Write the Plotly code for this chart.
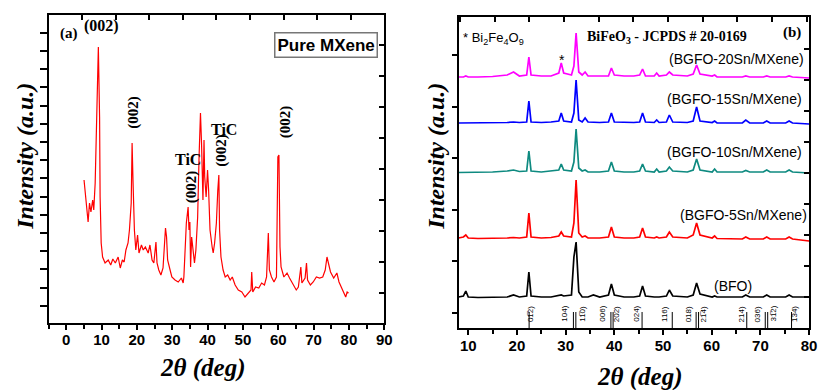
import plotly.graph_objects as go

W, H = 825, 390

# ---------------- Panel (a): Pure MXene ----------------
two_theta_a = [5.05, 5.6, 6.0, 6.2, 6.6, 7.0, 7.5, 7.8, 8.2, 8.5, 9.1, 9.45, 9.6, 9.9, 10.3, 11.0,
               11.9, 12.6, 13.2, 13.9, 14.7, 15.3, 15.9, 16.4, 16.9, 17.5, 17.9, 18.4, 18.65, 18.9,
               19.3, 19.7, 20.2, 20.6, 21.3, 21.8, 22.4, 23.2, 23.7, 24.3, 24.8, 25.4, 25.7, 26.2,
               26.8, 27.4, 27.75, 28.1, 28.4, 28.7, 29.4, 29.9, 30.8, 31.7, 32.6, 33.1, 33.3, 34.0,
               34.5, 34.75, 35.0, 35.2, 35.5, 35.9, 36.3, 36.7, 37.2, 37.6, 38.0, 38.3, 38.7, 39.0,
               39.2, 39.6, 40.0, 40.3, 40.7, 41.3, 41.6, 42.0, 42.5, 42.9, 43.2, 43.4, 43.8, 44.4,
               45.0, 45.7, 46.4, 47.0, 47.8, 48.7, 49.7, 50.6, 51.5, 52.3, 52.5, 52.8, 53.6, 54.5,
               55.3, 56.1, 56.7, 57.2, 57.5, 58.1, 58.8, 59.5, 59.9, 60.2, 60.5, 60.8, 61.6, 62.5,
               63.2, 64.2, 65.1, 65.7, 66.4, 66.7, 67.6, 68.0, 68.3, 69.1, 69.9, 70.8, 71.7, 72.6,
               73.3, 73.8, 74.2, 74.8, 75.7, 76.6, 77.2, 77.9, 78.6, 79.1, 79.5, 79.9]
intensity_a = [143, 126, 111, 101, 120, 111, 123, 113, 140, 193, 276, 206, 126, 80, 66, 60,
               63, 58, 64, 60, 66, 55, 63, 61, 73, 80, 93, 120, 180, 143,
               93, 73, 88, 70, 78, 73, 76, 70, 78, 63, 60, 81, 60, 53,
               48, 55, 73, 95, 86, 63, 53, 46, 43, 41, 45, 40, 46, 100,
               116, 93, 101, 56, 86, 73, 60, 73, 106, 166, 210, 180, 123, 183,
               146, 126, 153, 133, 93, 76, 70, 80, 100, 133, 148, 93, 66, 53,
               46, 48, 43, 46, 38, 33, 31, 26, 30, 33, 51, 31, 36, 35,
               40, 38, 46, 90, 53, 46, 41, 46, 166, 168, 76, 56, 46, 50,
               45, 38, 33, 36, 56, 40, 45, 60, 43, 38, 41, 46, 45, 46,
               53, 66, 60, 51, 45, 50, 41, 36, 31, 26, 31, 30]
x_ticks_a = [0, 10, 20, 30, 40, 50, 60, 70, 80, 90]

# ---------------- Panel (b): BFO / BGFO-Sn/MXene ----------------
two_theta_b = [8, 9.0, 9.5, 10.0, 12, 15, 18, 19.3, 20.5, 22.0, 22.45, 22.9, 25, 27, 28.6, 29.1,
               29.6, 31.2, 31.7, 32.15, 32.7, 33.4, 34.0, 34.6, 35.7, 37, 38.8, 39.4, 40.0, 42,
               44.0, 45.2, 45.8, 46.4, 48.2, 48.7, 49.2, 50.7, 51.3, 52.0, 55, 56.2, 56.9, 57.6,
               60.1, 60.6, 61.1, 64, 66.3, 67.0, 67.8, 70.6, 71.3, 72.0, 75.2, 75.9, 76.6, 80]
bfo = [31, 32, 37, 31, 30.5, 30.5, 31, 33, 31, 32, 56, 32, 31, 31, 32, 33,
       32, 33, 71, 86, 36, 31, 31, 31, 33, 31, 33, 44, 33, 31,
       31, 32, 42, 32, 31, 31, 31, 32, 38, 32, 31, 33, 45, 34,
       31, 32, 31, 31, 31, 33, 31, 31, 33, 31, 31, 33, 31, 31]
bgfo_5sn = [90, 91, 93, 90, 89.5, 89.5, 90, 90.5, 90, 91, 115, 91, 90, 90.5, 92, 96,
            92, 91, 105, 148, 95, 91, 92, 90, 90, 90, 91, 101, 91, 90,
            90, 91, 100, 91, 90, 91, 90, 91, 96, 91, 90, 93, 105, 93,
            90, 92, 89.5, 89, 89, 91, 89, 89, 91, 89, 89, 91, 89, 87]
bgfo_10sn = [155.5, 155.5, 156, 155.5, 155.5, 156, 157, 158, 156.5, 157, 177, 157, 156, 157, 158, 164,
             158, 157, 166, 199, 160, 157, 158, 156, 156, 156, 157, 166, 157, 156,
             156, 157, 164, 157, 156, 159, 156, 157, 161, 157, 156, 158, 169, 158,
             156, 159, 156, 156, 156, 157.5, 156, 156, 158, 156, 156, 158, 156, 155]
bgfo_15sn = [205, 205, 205.5, 205, 205, 205, 205.5, 206, 205.5, 206, 227, 206, 205.5, 206, 207, 215,
             207, 206, 215, 248, 208, 206, 210, 206, 205.5, 205.5, 206, 215, 206, 205.5,
             205.5, 206, 215, 206, 205.5, 208, 205.5, 206, 213, 206, 205.5, 207, 221, 207,
             205.5, 207, 205, 205, 205, 208, 205, 205, 207, 205, 205, 207, 205, 204]
bgfo_20sn = [251, 251, 252, 251, 251, 251.5, 253, 256, 252, 253, 271, 253, 252, 252, 255, 265,
             255, 253, 262, 295, 256, 253, 256, 252, 252, 252, 252, 260, 253, 252,
             252, 253, 259, 252, 252, 255, 252, 253, 256, 253, 252, 254, 263, 254,
             252, 253, 251, 251, 251, 252, 251, 251, 252, 251, 251, 252, 251, 250]
series_b = [("(BFO)", bfo, "#000000"),
            ("(BGFO-5Sn/MXene)", bgfo_5sn, "#ff0000"),
            ("(BGFO-10Sn/MXene)", bgfo_10sn, "#0e8a80"),
            ("(BGFO-15Sn/MXene)", bgfo_15sn, "#0000ff"),
            ("(BGFO-20Sn/MXene)", bgfo_20sn, "#ff00ff")]
x_ticks_b = [10, 20, 30, 40, 50, 60, 70, 80]

# JCPDS reference reflections
jcpds_lines = [22.5, 31.6, 32.1, 39.3, 39.75, 45.7, 51.9, 56.8, 57.3, 67.2, 71.0, 71.5, 76.4]
jcpds_line_height = 16
jcpds_label_pos = [22.7, 29.6, 33.3, 37.4, 40.4, 44.4, 50.2, 55.2, 58.3, 66.1, 69.4, 72.5, 76.9]
jcpds_label_txt = ["01\u03052)", "104)", "11\u03050)", "006)", "202)", "024)", "116)", "018)",
                   "21\u03054)", "214)", "036)", "31\u03052)", "1\u030534)"]

def px(x):
    return x / W

def py(y):
    return 1 - y / H

fig = go.Figure()

fig.add_trace(go.Scatter(x=two_theta_a, y=intensity_a, mode="lines",
                         line=dict(color="#ff0000", width=1.2), xaxis="x", yaxis="y",
                         showlegend=False, hoverinfo="skip"))
for name, vals, col in series_b:
    fig.add_trace(go.Scatter(x=two_theta_b, y=vals, mode="lines", name=name,
                             line=dict(color=col, width=1.7), xaxis="x2", yaxis="y2",
                             showlegend=False))
lx, ly = [], []
for p in jcpds_lines:
    lx += [p, p, None]
    ly += [0, jcpds_line_height, None]
fig.add_trace(go.Scatter(x=lx, y=ly, mode="lines", line=dict(color="black", width=1),
                         xaxis="x2", yaxis="y2", showlegend=False, hoverinfo="skip"))
# helpers so the overlay tick axes exist
for xa, ya in [("x3", "y"), ("x", "y3"), ("x4", "y2"), ("x2", "y4")]:
    fig.add_trace(go.Scatter(x=[], y=[], xaxis=xa, yaxis=ya, showlegend=False, hoverinfo="skip"))

tickfont = dict(family="Liberation Sans", size=15, color="black", weight="bold")
common_frame = dict(showline=True, linewidth=2, linecolor="black", mirror=True,
                    showgrid=False, zeroline=False)

dom_ax = [px(49), px(388)]
dom_ay = [py(323), py(15)]
dom_bx = [px(463), px(817)]
dom_by = [py(328), py(17)]

fig.update_layout(
    width=W, height=H, autosize=False,
    margin=dict(l=0, r=0, t=0, b=0),
    paper_bgcolor="white", plot_bgcolor="white",
    xaxis=dict(domain=dom_ax, anchor="y", range=[-5, 90], tickvals=x_ticks_a,
               ticks="outside", ticklen=5, tickwidth=1.5, tickcolor="black",
               minor=dict(dtick=5, tick0=0, ticks="outside", ticklen=4, tickcolor="black"),
               tickfont=tickfont, ticklabelstandoff=-3, **common_frame),
    yaxis=dict(domain=dom_ay, anchor="x", range=[0, 308], tick0=17.3, dtick=18.2,
               ticks="outside", ticklen=7, tickwidth=1.5, tickcolor="black",
               showticklabels=False, **common_frame),
    xaxis3=dict(overlaying="x", anchor="y", side="top", range=[-5, 90], tick0=4.5, dtick=9.5,
                ticks="inside", ticklen=5, tickwidth=1.5, tickcolor="black",
                showticklabels=False, showline=False, showgrid=False, zeroline=False),
    yaxis3=dict(overlaying="y", anchor="x", side="right", range=[0, 308], tick0=30, dtick=31,
                ticks="inside", ticklen=5, tickwidth=1.5, tickcolor="black",
                showticklabels=False, showline=False, showgrid=False, zeroline=False),
    xaxis2=dict(domain=dom_bx, anchor="y2", range=[8, 80], tickvals=x_ticks_b,
                ticks="outside", ticklen=5, tickwidth=1.5, tickcolor="black",
                minor=dict(dtick=5, tick0=0, ticks="outside", ticklen=4, tickcolor="black"),
                tickfont=tickfont, ticklabelstandoff=-2, **common_frame),
    yaxis2=dict(domain=dom_by, anchor="x2", range=[0, 311], tick0=15, dtick=51.6,
                ticks="outside", ticklen=5, tickwidth=1.5, tickcolor="black",
                showticklabels=False, **common_frame),
    xaxis4=dict(overlaying="x2", anchor="y2", side="top", range=[8, 80], tick0=15.4, dtick=7.12,
                ticks="inside", ticklen=5, tickwidth=1.5, tickcolor="black",
                showticklabels=False, showline=False, showgrid=False, zeroline=False),
    yaxis4=dict(overlaying="y2", anchor="x2", side="right", range=[0, 311], tick0=0, dtick=31,
                ticks="inside", ticklen=5, tickwidth=1.5, tickcolor="black",
                showticklabels=False, showline=False, showgrid=False, zeroline=False),
)

ann = []

def add(text, x, y, size, family="Liberation Serif", angle=0, xanchor="center", bold=True,
        italic=False, **kw):
    t = text
    if bold:
        t = "<b>" + t + "</b>"
    if italic:
        t = "<i>" + t + "</i>"
    ann.append(dict(text=t, x=px(x), y=py(y), xref="paper", yref="paper", showarrow=False,
                    textangle=angle, xanchor=xanchor, yanchor="middle",
                    font=dict(family=family, size=size, color="black"), **kw))

# axis titles
add("Intensity (a.u.)", 25, 156, 24, angle=-90, italic=True)
add("Intensity (a.u.)", 440, 156, 24, angle=-90, italic=True)
add("2\u03b8 (deg)", 204, 368, 25, italic=True)
add("2\u03b8 (deg)", 646, 377, 25, italic=True)

# panel (a) labels
add("(a)", 70, 33, 15)
add("(002)", 102, 26, 16)
add("(002)", 135, 112, 15, angle=-90)
add("TiC", 190, 159, 16)
add("(002)", 193, 187, 15, angle=-90)
add("TiC", 226, 130, 16)
add("(002)", 223, 150, 15, angle=-90)
add("(002)", 288, 122, 15, angle=-90)
add("Pure MXene", 329.5, 44.5, 17, family="Liberation Sans",
    bordercolor="#777777", borderwidth=1.5, borderpad=2, bgcolor="white")

# panel (b) labels
add("(b)", 800, 32, 15)
add("BiFeO<sub>3</sub> - JCPDS # 20-0169", 674, 37, 14)
add("* Bi<sub>2</sub>Fe<sub>4</sub>O<sub>9</sub>", 466, 39, 13, family="Liberation Sans",
    xanchor="left", bold=False)
add("*", 568, 60, 14, family="Liberation Sans", bold=False)
label_pos = {"(BGFO-20Sn/MXene)": (744, 59), "(BGFO-15Sn/MXene)": (742, 99),
             "(BGFO-10Sn/MXene)": (742, 152), "(BGFO-5Sn/MXene)": (751, 215), "(BFO)": (740, 286)}
for name, _, _ in series_b:
    xx, yy = label_pos[name]
    add(name, xx, yy, 14, family="Liberation Sans", bold=False)

for pos, txt in zip(jcpds_label_pos, jcpds_label_txt):
    ann.append(dict(text=txt, x=pos, y=14, xref="x2", yref="y2", showarrow=False,
                    textangle=-90, font=dict(family="Liberation Sans", size=8, color="black")))

fig.update_layout(annotations=ann)
fig.write_html("out.html", config={"displayModeBar": False},
               post_script="document.body.style.margin='0';document.body.style.padding='0';"
                           "document.documentElement.style.overflow='hidden';")
